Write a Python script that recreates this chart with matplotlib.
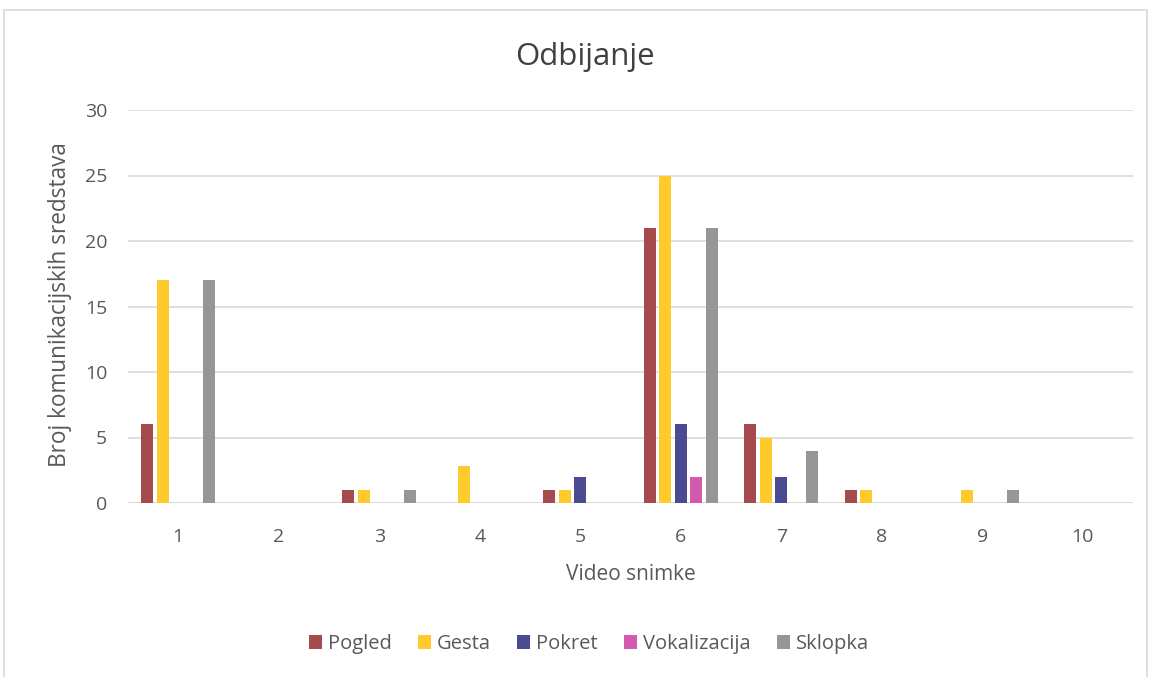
import numpy as np
import matplotlib.pyplot as plt
from matplotlib.patches import Rectangle

# data
videos = ['1', '2', '3', '4', '5', '6', '7', '8', '9', '10']
pogled = [6, 0, 1, 0, 1, 21, 6, 1, 0, 0]
gesta = [17, 0, 1, 2.8, 1, 25, 5, 1, 1, 0]
pokret = [0, 0, 0, 0, 2, 6, 2, 0, 0, 0]
vokalizacija = [0, 0, 0, 0, 0, 2, 0, 0, 0, 0]
sklopka = [17, 0, 1, 0, 0, 21, 4, 0, 1, 0]

series = [('Pogled', pogled, '#A54B4D'),
          ('Gesta', gesta, '#FFCA2C'),
          ('Pokret', pokret, '#4B4B91'),
          ('Vokalizacija', vokalizacija, '#D45AAF'),
          ('Sklopka', sklopka, '#969696')]

plt.rcParams['font.family'] = ['Open Sans', 'DejaVu Sans']
txt = '#595959'

fig = plt.figure(figsize=(11.53, 6.77), dpi=100)
ax = fig.add_axes([128 / 1153, 1 - 503 / 677, 1005 / 1153, 393 / 677])

# outer chart frame
fig.patches.append(Rectangle((4 / 1153, -0.02), 1143 / 1153, 1 - 10 / 677 + 0.02,
                             transform=fig.transFigure, fill=False,
                             edgecolor='#D9D9D9', linewidth=1.2))

x = np.arange(1, len(videos) + 1)
pitch = 0.155
width = 0.12
for i, (name, vals, col) in enumerate(series):
    ax.bar(x + (i - 2) * pitch, vals, width, color=col, label=name, zorder=3)

ax.set_xlim(0.5, 10.5)
ax.set_ylim(0, 30)
ax.set_yticks(range(0, 31, 5))
ax.set_xticks(x)
ax.set_xticklabels(videos)
ax.grid(axis='y', color='#D9D9D9', linewidth=1.2, zorder=0)
for s in ax.spines.values():
    s.set_visible(False)
ax.axhline(0, color='#D9D9D9', linewidth=1.2, zorder=2)
ax.tick_params(axis='x', length=0, labelsize=14, colors=txt, pad=18)
ax.tick_params(axis='y', length=0, labelsize=14, colors=txt, pad=15)

fig.text(585 / 1153, 1 - 57 / 677, 'Odbijanje', fontsize=22.5, color='#404040',
         ha='center', va='center')
ax.set_xlabel('Video snimke', fontsize=15, color=txt, labelpad=13)
fig.text(60 / 1153, 1 - 305 / 677, 'Broj komunikacijskih sredstava', fontsize=16.3,
         color=txt, rotation=90, ha='center', va='center')

fig.legend(loc='center', bbox_to_anchor=(589 / 1153, 1 - 644 / 677), ncol=5,
           frameon=False, fontsize=14.5, labelcolor=txt, handlelength=0.65,
           handleheight=0.65, handletextpad=0.3, columnspacing=1.3)

fig.savefig('out.png', dpi=100)
